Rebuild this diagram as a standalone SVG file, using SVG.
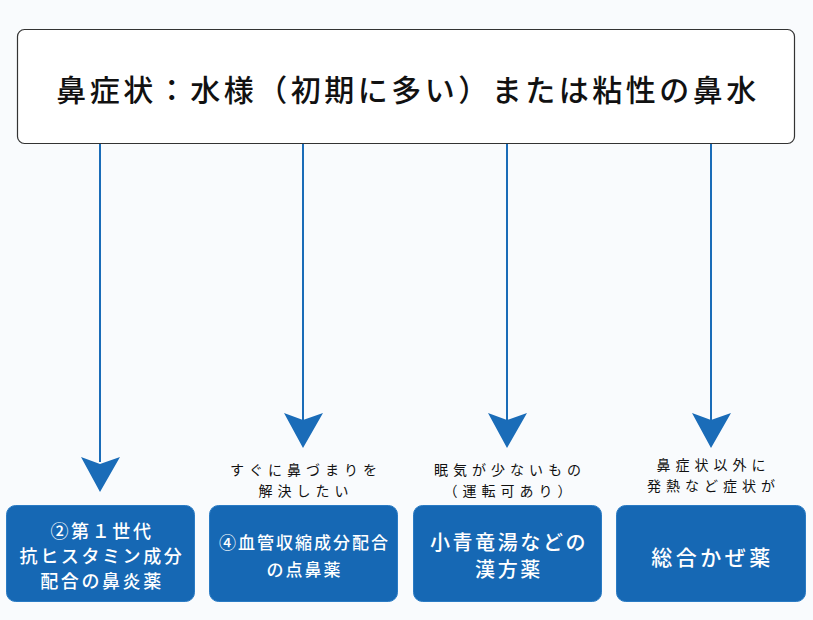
<svg xmlns="http://www.w3.org/2000/svg" width="813" height="620" viewBox="0 0 813 620">
<defs>
<style>
.bg{fill:#f9fbfd}
.top{fill:#ffffff;stroke:#333333;stroke-width:1.2}
.toptxt{font-family:"Noto Sans CJK JP","Noto Sans",sans-serif;font-size:30px;font-weight:500;fill:#111111;text-anchor:middle;letter-spacing:3.5px}
.box{fill:#1668b4;stroke:#2a7bc4;stroke-width:1}
.btxt{font-family:"Noto Sans CJK JP","Noto Sans",sans-serif;font-weight:500;fill:#ffffff;text-anchor:middle}
.b1{font-size:18px;letter-spacing:2.6px}
.b2{font-size:17px;letter-spacing:2px}
.b3{font-size:20px;letter-spacing:2.6px}
.b4{font-size:21px;letter-spacing:3.5px}
.lbl{font-family:"Noto Sans CJK JP","Noto Sans",sans-serif;font-size:14px;font-weight:400;fill:#111111;text-anchor:middle;letter-spacing:5px}
.ln{stroke:#1a6cb8;stroke-width:2;fill:none}
.ah{fill:#1a6cb8}
</style>
</defs>
<rect class="bg" x="0" y="0" width="813" height="620"/>
<g id="top">
<rect class="top" x="17.5" y="29.5" width="777" height="114" rx="7"/>
<text class="toptxt" x="408" y="101">鼻症状：水様（初期に多い）または粘性の鼻水</text>
</g>
<g id="connectors">
<line class="ln" x1="100" y1="144" x2="100" y2="462"/>
<path class="ah" d="M100,492 L81,457 L100,464 L120,457 Z"/>
<line class="ln" x1="303" y1="144" x2="303" y2="420"/>
<path class="ah" d="M303,448 L284,413 L303,420 L323,413 Z"/>
<line class="ln" x1="507" y1="144" x2="507" y2="420"/>
<path class="ah" d="M507,448 L488,413 L507,420 L527,413 Z"/>
<line class="ln" x1="711" y1="144" x2="711" y2="420"/>
<path class="ah" d="M711,448 L692,413 L711,420 L731,413 Z"/>
</g>
<g id="node1">
<rect class="box" x="6.5" y="505.5" width="188" height="96" rx="9"/>
<text class="btxt b1" x="102" y="538">②第１世代</text>
<text class="btxt b1" x="102" y="563">抗ヒスタミン成分</text>
<text class="btxt b1" x="102" y="588">配合の鼻炎薬</text>
</g>
<g id="node2">
<text class="lbl" x="306" y="475">すぐに鼻づまりを</text>
<text class="lbl" x="306" y="496">解決したい</text>
<rect class="box" x="209.5" y="505.5" width="188" height="96" rx="9"/>
<text class="btxt b2" x="304.5" y="549">④血管収縮成分配合</text>
<text class="btxt b2" x="304.5" y="576">の点鼻薬</text>
</g>
<g id="node3">
<text class="lbl" x="510" y="475">眠気が少ないもの</text>
<text class="lbl" x="510" y="496">（運転可あり）</text>
<rect class="box" x="413.5" y="505.5" width="188" height="96" rx="9"/>
<text class="btxt b3" x="509" y="550">小青竜湯などの</text>
<text class="btxt b3" x="509" y="577">漢方薬</text>
</g>
<g id="node4">
<text class="lbl" x="713.5" y="470">鼻症状以外に</text>
<text class="lbl" x="713.5" y="491">発熱など症状が</text>
<rect class="box" x="616.5" y="505.5" width="189" height="96" rx="9"/>
<text class="btxt b4" x="712.5" y="565">総合かぜ薬</text>
</g>
</svg>
